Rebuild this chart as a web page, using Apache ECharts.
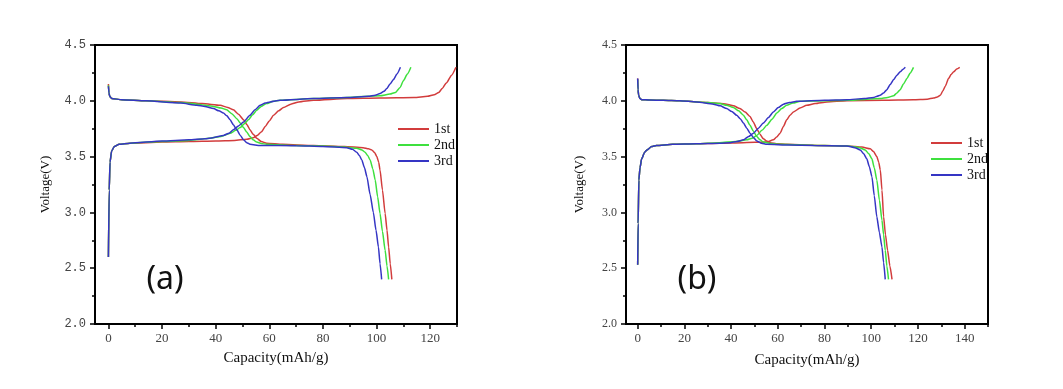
<!DOCTYPE html>
<html>
<head>
<meta charset="utf-8">
<script src="https://cdn.jsdelivr.net/npm/echarts@6/dist/echarts.min.js"></script>
<style>html,body{margin:0;padding:0;background:#fff;}#c{width:1063px;height:389px;}</style>
</head>
<body>
<div id="c"></div>
<script>
// ---- tick labels / categories ----
const seriesNames = ['1st', '2nd', '3rd'];
const capTicksA = [0, 20, 40, 60, 80, 100, 120];
const capMinorA = [10, 30, 50, 70, 90, 110, 130];
const capTicksB = [0, 20, 40, 60, 80, 100, 120, 140];
const capMinorB = [10, 30, 50, 70, 90, 110, 130, 150];
const voltTicks = [2.0, 2.5, 3.0, 3.5, 4.0, 4.5];

// ---- panel (a) data: [capacity mAh/g, voltage V] ----
const a1Charge = [[0,2.60],[0.3,3.2],[0.6,3.45],[1.2,3.55],[2.2,3.59],[4,3.61],[8,3.62],[20,3.63],[30,3.635],[40,3.64],[47,3.645],[51.6,3.655],[54,3.67],[55.5,3.69],[57,3.72],[58.5,3.77],[60,3.82],[61.6,3.87],[63.5,3.91],[65.3,3.94],[68,3.97],[71,3.99],[76.5,4.005],[89,4.02],[101,4.025],[114,4.03],[119,4.04],[121.5,4.055],[123.2,4.075],[124.5,4.11],[126,4.16],[128,4.23],[129.6,4.30]];
const a2Charge = [[0,2.60],[0.3,3.2],[0.6,3.45],[1.2,3.55],[2.2,3.59],[4,3.61],[8,3.62],[20,3.635],[30,3.645],[38,3.665],[42,3.68],[45.4,3.71],[47.5,3.735],[49.1,3.76],[50.7,3.795],[52.2,3.83],[53.8,3.875],[55.3,3.915],[57,3.95],[59,3.975],[61.5,3.995],[64,4.005],[76.5,4.02],[89,4.03],[101.3,4.045],[105,4.06],[107,4.075],[108.8,4.12],[110,4.18],[111.5,4.24],[112.8,4.30]];
const a3Charge = [[0,2.60],[0.3,3.2],[0.6,3.45],[1.2,3.55],[2.2,3.59],[4,3.61],[8,3.62],[20,3.64],[30,3.65],[36,3.66],[39,3.67],[42.9,3.69],[45,3.71],[46.6,3.74],[48.5,3.775],[50.4,3.81],[52.8,3.87],[54.7,3.92],[56.6,3.96],[58.5,3.98],[60.3,3.99],[64,4.005],[76.5,4.02],[88.9,4.03],[97,4.04],[99.5,4.05],[101.3,4.065],[102.8,4.085],[103.8,4.11],[105,4.15],[106.3,4.19],[107.6,4.24],[108.9,4.30]];
const a1Discharge = [[0,4.15],[0.2,4.07],[0.5,4.04],[1.2,4.02],[5,4.01],[14,4.0],[27,3.99],[35,3.975],[41.7,3.96],[44.5,3.94],[46.6,3.92],[48.5,3.88],[50.4,3.83],[51.7,3.785],[52.8,3.74],[54,3.70],[55.3,3.665],[57,3.635],[59,3.62],[65,3.61],[76.5,3.60],[88,3.59],[95,3.58],[97,3.57],[98.2,3.56],[99.3,3.535],[100.1,3.50],[100.8,3.45],[101.3,3.38],[102.2,3.20],[103.2,2.99],[103.9,2.84],[104.5,2.69],[105.1,2.54],[105.7,2.40]];
const a2Discharge = [[0,4.14],[0.2,4.07],[0.5,4.04],[1.2,4.02],[5,4.01],[14,4.0],[27,3.985],[33,3.97],[39.2,3.95],[42,3.935],[44.1,3.92],[46,3.885],[47.9,3.84],[49.2,3.80],[50.4,3.76],[51.6,3.72],[52.8,3.68],[54,3.65],[55.3,3.63],[57,3.618],[59,3.61],[70,3.60],[80,3.595],[88,3.585],[92.6,3.575],[94.5,3.56],[95.7,3.54],[96.7,3.51],[97.6,3.47],[98.6,3.39],[99.5,3.29],[100.4,3.14],[101.3,2.99],[102.2,2.83],[103.2,2.66],[103.9,2.52],[104.5,2.40]];
const a3Discharge = [[0,4.13],[0.2,4.07],[0.5,4.04],[1.2,4.02],[5,4.01],[14,4.0],[27,3.98],[33,3.96],[36,3.95],[39.2,3.93],[41.2,3.91],[42.9,3.89],[44.2,3.865],[45.4,3.83],[46.6,3.785],[47.9,3.74],[49.2,3.69],[50.4,3.65],[51.6,3.625],[52.8,3.61],[56.6,3.60],[70,3.598],[80,3.59],[88.9,3.58],[91,3.565],[92.6,3.54],[93.6,3.51],[94.5,3.47],[95.5,3.40],[96.4,3.32],[97.6,3.16],[98.8,3.0],[99.8,2.84],[100.7,2.69],[101.3,2.54],[101.9,2.40]];

// ---- panel (b) data ----
const b1Charge = [[0,2.53],[0.2,2.9],[0.5,3.29],[1,3.40],[1.7,3.48],[3,3.54],[4,3.56],[6,3.59],[8,3.60],[15,3.61],[25,3.615],[35,3.62],[45,3.625],[55.3,3.63],[58.1,3.65],[59.5,3.675],[61,3.71],[62.4,3.77],[63.8,3.83],[65.2,3.87],[66.7,3.90],[69.5,3.935],[72.4,3.96],[76,3.975],[81,3.99],[89.6,4.0],[105,4.005],[118,4.01],[124,4.015],[126.7,4.025],[128.3,4.035],[129.6,4.05],[130.7,4.09],[131.7,4.13],[133.1,4.20],[134.2,4.235],[135.3,4.26],[136.6,4.285],[137.9,4.30]];
const b2Charge = [[0,2.53],[0.2,2.9],[0.5,3.29],[1,3.40],[1.7,3.48],[3,3.54],[4,3.56],[6,3.59],[8,3.60],[15,3.61],[25,3.615],[35,3.625],[42,3.635],[46.7,3.65],[49,3.665],[51,3.69],[53.2,3.735],[55.3,3.78],[57.5,3.835],[59.6,3.89],[61.7,3.93],[63.8,3.96],[66.5,3.98],[69.6,3.995],[80,4.0],[90,4.005],[103.8,4.02],[107,4.03],[109.6,4.045],[111,4.07],[112.4,4.10],[113.8,4.15],[115.3,4.20],[116.7,4.25],[118.1,4.30]];
const b3Charge = [[0,2.53],[0.2,2.9],[0.5,3.29],[1,3.40],[1.7,3.48],[3,3.54],[4,3.56],[6,3.59],[8,3.60],[15,3.61],[25,3.615],[35,3.62],[39.6,3.625],[42.5,3.635],[45.3,3.65],[47.5,3.68],[49.6,3.71],[51.7,3.755],[53.8,3.80],[56,3.85],[58.1,3.90],[60.2,3.94],[62.4,3.97],[65,3.985],[68.1,3.995],[80,4.005],[89.6,4.01],[97,4.02],[101,4.03],[102.5,4.04],[103.8,4.05],[105.3,4.07],[106.7,4.10],[108.1,4.145],[109.6,4.19],[111,4.23],[112.4,4.26],[113.5,4.28],[114.6,4.30]];
const b1Discharge = [[0,4.20],[0.15,4.10],[0.4,4.05],[1,4.02],[1.7,4.01],[5,4.007],[11,4.005],[18,4.0],[25.3,3.99],[30,3.985],[38.1,3.97],[41,3.955],[43.8,3.93],[46,3.90],[48.1,3.86],[49.5,3.81],[51,3.75],[52.4,3.70],[53.8,3.66],[55.2,3.64],[56.7,3.625],[60,3.615],[63.8,3.61],[80,3.60],[90,3.595],[96,3.585],[99.6,3.57],[101,3.545],[102.4,3.50],[103.2,3.45],[103.9,3.38],[104.6,3.20],[105.3,2.96],[106.1,2.80],[107,2.66],[108,2.52],[108.9,2.40]];
const b2Discharge = [[0,4.19],[0.15,4.10],[0.4,4.05],[1,4.02],[1.7,4.01],[5,4.007],[11,4.005],[18,4.0],[25.3,3.99],[30,3.985],[35.3,3.975],[38,3.96],[41,3.94],[43.2,3.91],[45.3,3.87],[46.7,3.83],[48.1,3.78],[49.5,3.73],[51,3.68],[52.4,3.65],[53.8,3.63],[57,3.618],[61,3.61],[80,3.60],[90,3.595],[95,3.58],[97.4,3.56],[99,3.525],[100.3,3.48],[101.3,3.40],[102.4,3.29],[103.5,3.11],[104.6,2.93],[105.3,2.80],[106,2.66],[106.7,2.52],[107.4,2.40]];
const b3Discharge = [[0,4.20],[0.15,4.10],[0.4,4.05],[1,4.02],[1.7,4.01],[5,4.007],[11,4.005],[18,4.0],[25.3,3.99],[32.4,3.97],[35.3,3.955],[38.1,3.93],[40.3,3.905],[42.4,3.87],[43.9,3.84],[45.3,3.80],[46.7,3.755],[48.1,3.71],[49.6,3.67],[51,3.64],[53,3.62],[55.3,3.61],[65,3.603],[75.3,3.60],[89.6,3.595],[93,3.58],[95.3,3.56],[96.8,3.525],[98.1,3.48],[99.2,3.41],[100.3,3.32],[101.3,3.15],[102.4,2.96],[103.5,2.82],[104.6,2.69],[105.3,2.55],[106,2.40]];

const colors = ['#d23c3c', '#3ee03e', '#3535c4'];
const panelA = [[a1Charge, a1Discharge], [a2Charge, a2Discharge], [a3Charge, a3Discharge]];
const panelB = [[b1Charge, b1Discharge], [b2Charge, b2Discharge], [b3Charge, b3Discharge]];

const serif = '"Liberation Serif", "Times New Roman", serif';
const series = [];
function addPanel(panel, xi, yi) {
  panel.forEach((pair, i) => {
    pair.forEach(d => {
      series.push({
        type: 'line', name: seriesNames[i], xAxisIndex: xi, yAxisIndex: yi,
        data: d, symbol: 'none', showSymbol: false, smooth: 0.2, smoothMonotone: 'x',
        lineStyle: { width: 1.5, color: colors[i] }, itemStyle: { color: colors[i] },
        z: 2 + i, animation: false
      });
    });
  });
}
addPanel(panelA, 0, 0);
addPanel(panelB, 2, 1);

function mainX(grid, max, ticks, gap) {
  return {
    type: 'value', gridIndex: grid, min: -5, max: max, position: 'bottom',
    name: 'Capacity(mAh/g)', nameLocation: 'middle', nameGap: gap,
    nameTextStyle: { fontFamily: serif, fontSize: 15, color: '#111' },
    axisLine: { onZero: false, lineStyle: { color: '#000', width: 2 } },
    axisTick: { show: true, customValues: ticks, length: 5, lineStyle: { color: '#000', width: 1.5 } },
    axisLabel: { customValues: ticks, margin: 8, fontFamily: serif, fontSize: 13, color: '#444' },
    splitLine: { show: false }
  };
}
function minorX(grid, max, ticks) {
  return {
    type: 'value', gridIndex: grid, min: -5, max: max, position: 'bottom',
    axisLine: { show: false, onZero: false },
    axisTick: { show: true, customValues: ticks, length: 3, lineStyle: { color: '#000', width: 1.5 } },
    axisLabel: { show: false }, splitLine: { show: false }
  };
}
function yAx(grid, gap, labelFont, labelSize) {
  return {
    type: 'value', gridIndex: grid, min: 2, max: 4.5, interval: 0.5,
    name: 'Voltage(V)', nameLocation: 'middle', nameGap: gap,
    nameTextStyle: { fontFamily: serif, fontSize: 13, color: '#111' },
    axisLine: { show: true, onZero: false, lineStyle: { color: '#000', width: 2 } },
    axisTick: { show: true, length: 5, lineStyle: { color: '#000', width: 1.5 } },
    minorTick: { show: true, splitNumber: 2, length: 3, lineStyle: { color: '#000', width: 1.5 } },
    axisLabel: { margin: 9, fontFamily: labelFont, fontSize: labelSize, color: '#444',
      formatter: v => v.toFixed(1) },
    splitLine: { show: false }, minorSplitLine: { show: false }
  };
}
function legend(left, top) {
  return {
    orient: 'vertical', left: left, top: top, data: seriesNames,
    icon: 'rect', itemWidth: 31, itemHeight: 2, itemGap: 2,
    textStyle: { fontFamily: serif, fontSize: 14, color: '#111' },
    selectedMode: false
  };
}

const option = {
  backgroundColor: '#fff',
  animation: false,
  grid: [
    { left: 95, top: 45, width: 362, height: 279, show: true, borderColor: '#000', borderWidth: 2, backgroundColor: 'transparent' },
    { left: 626, top: 45, width: 362, height: 279, show: true, borderColor: '#000', borderWidth: 2, backgroundColor: 'transparent' }
  ],
  xAxis: [ mainX(0, 130, capTicksA, 27), minorX(0, 130, capMinorA), mainX(1, 150, capTicksB, 29), minorX(1, 150, capMinorB) ],
  yAxis: [ yAx(0, 43, '"Liberation Mono", monospace', 12), yAx(1, 40, serif, 12) ],
  legend: [ legend(393, 117), legend(926, 131) ],
  graphic: [
    { type: 'text', x: 165, y: 280, style: { text: '(a)', font: '32px "Noto Sans"', fill: '#111', align: 'center', verticalAlign: 'middle', textAlign: 'center', textVerticalAlign: 'middle' } },
    { type: 'text', x: 697, y: 280, style: { text: '(b)', font: '32px "Noto Sans"', fill: '#111', align: 'center', verticalAlign: 'middle', textAlign: 'center', textVerticalAlign: 'middle' } }
  ],
  series: series
};
const chart = echarts.init(document.getElementById('c'), null, { renderer: 'canvas' });
chart.setOption(option);
</script>
</body>
</html>
